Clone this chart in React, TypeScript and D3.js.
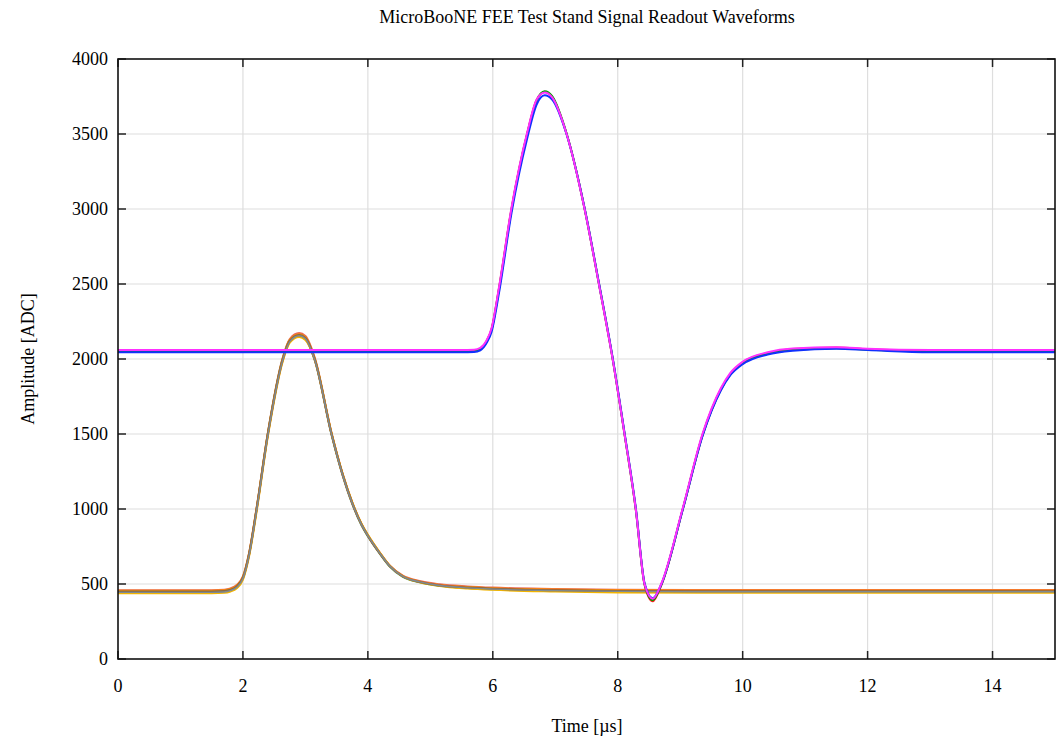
import React from 'react';
import * as d3 from 'd3';

// sample times [µs]
const timesA = [0, 1.5, 1.7, 1.8, 1.9, 2.0, 2.1, 2.22, 2.4, 2.64, 2.75, 2.9, 3.0, 3.15, 3.42, 3.6, 3.75, 3.9, 4.0, 4.19, 4.35, 4.56, 4.83, 5.15, 5.6, 6.0, 7, 8, 10, 12, 15];
const timesB = [0, 5.5, 5.7, 5.8, 5.9, 5.98, 6.1, 6.3, 6.55, 6.7, 6.83, 6.95, 7.18, 7.47, 7.7, 7.92, 8.11, 8.29, 8.43, 8.56, 8.7, 9.04, 9.36, 9.65, 9.8, 10.0, 10.4, 10.8, 11.5, 12, 13, 15];

// collection-plane channels (unipolar)
const chA1 = [444, 444, 447, 456, 478, 536, 696, 996, 1496, 1996, 2116, 2155, 2135, 1994, 1496, 1222, 1038, 894, 822, 706, 620, 551, 514, 490, 474, 466, 456, 451, 448, 448, 448];
const chA2 = [438, 438, 441, 450, 471, 529, 688, 986, 1487, 1989, 2109, 2146, 2127, 1996, 1502, 1228, 1044, 900, 828, 710, 622, 551, 512, 487, 470, 461, 450, 444, 441, 441, 441];
const chA3 = [450, 450, 453, 462, 484, 542, 702, 1002, 1502, 2002, 2122, 2160, 2140, 1998, 1498, 1225, 1040, 895, 822, 705, 619, 550, 513, 490, 476, 468, 458, 454, 452, 452, 452];
const chA4 = [455, 455, 458, 467, 489, 547, 707, 1007, 1507, 2007, 2127, 2165, 2145, 2002, 1500, 1226, 1042, 897, 824, 707, 621, 553, 516, 494, 480, 472, 463, 458, 456, 456, 456];
const chA5 = [459, 459, 462, 471, 493, 551, 711, 1011, 1511, 2013, 2133, 2173, 2153, 2008, 1505, 1229, 1044, 899, 826, 710, 624, 556, 520, 498, 484, 476, 467, 462, 460, 460, 460];
const chA6 = [447, 447, 450, 459, 482, 541, 702, 1004, 1505, 2006, 2124, 2158, 2137, 1992, 1492, 1219, 1034, 890, 818, 702, 616, 548, 511, 488, 473, 465, 455, 450, 448, 448, 448];

// induction-plane channels (bipolar)
const chB1 = [2045, 2045, 2047, 2058, 2106, 2180, 2442, 2975, 3470, 3695, 3758, 3730, 3500, 3005, 2505, 2005, 1505, 1005, 505, 405, 500, 995, 1490, 1790, 1890, 1965, 2030, 2055, 2068, 2060, 2045, 2045];
const chB2 = [2050, 2050, 2052, 2064, 2114, 2195, 2468, 2998, 3498, 3722, 3785, 3752, 3505, 3002, 2500, 2000, 1498, 996, 498, 392, 498, 998, 1495, 1795, 1895, 1972, 2035, 2060, 2072, 2062, 2050, 2050];
const chB3 = [2055, 2055, 2057, 2069, 2119, 2200, 2474, 3003, 3503, 3725, 3780, 3746, 3503, 3000, 2498, 1996, 1494, 992, 494, 385, 495, 996, 1496, 1798, 1900, 1978, 2040, 2066, 2076, 2066, 2054, 2054];
const chB4 = [2060, 2060, 2062, 2074, 2124, 2205, 2480, 3010, 3508, 3728, 3776, 3744, 3502, 2998, 2496, 1996, 1496, 995, 498, 402, 505, 1005, 1505, 1805, 1906, 1982, 2045, 2070, 2078, 2068, 2060, 2060];

const seriesA = [
  { color: '#e86a5c', values: chA5 },
  { color: '#3cb371', values: chA6 },
  { color: '#ff8c00', values: chA4 },
  { color: '#d13a2a', values: chA1 },
  { color: '#f2b400', values: chA2 },
  { color: '#8b6a3e', values: chA3 },
  { color: '#7f8a94', values: chA1 },
];
const seriesB = [
  { color: '#ff2020', values: chB3 },
  { color: '#00a000', values: chB2 },
  { color: '#1030ff', values: chB1 },
  { color: '#ff30ff', values: chB4 },
];

const xTicks = [0, 2, 4, 6, 8, 10, 12, 14];
const yTicks = [0, 500, 1000, 1500, 2000, 2500, 3000, 3500, 4000];

const W = 1060;
const H = 740;
const margin = { top: 59, right: 5, bottom: 81, left: 118 };
const font = '"Liberation Serif", "Times New Roman", serif';

export default function App() {
  const x = d3.scaleLinear().domain([0, 15]).range([margin.left, W - margin.right]);
  const y = d3.scaleLinear().domain([0, 4000]).range([H - margin.bottom, margin.top]);
  const x0 = x(0), x1 = x(15), y0 = y(0), y1 = y(4000);
  const tick = 8;

  const lineA = d3.line<number>()
    .x((_, i) => x(timesA[i]))
    .y((d) => y(d))
    .curve(d3.curveMonotoneX);
  const lineB = d3.line<number>()
    .x((_, i) => x(timesB[i]))
    .y((d) => y(d))
    .curve(d3.curveMonotoneX);

  return (
    <svg width={W} height={H} style={{ position: 'absolute', left: 0, top: 0, background: '#fff' }}
      fontFamily={font}>
      <defs>
        <clipPath id="plot">
          <rect x={x0} y={y1} width={x1 - x0} height={y0 - y1} />
        </clipPath>
      </defs>

      {/* grid */}
      {xTicks.filter((t) => t > 0).map((t) => (
        <line key={'gx' + t} x1={x(t)} x2={x(t)} y1={y1} y2={y0} stroke="#dedede" strokeWidth={1.2} />
      ))}
      {yTicks.filter((t) => t > 0 && t < 4000).map((t) => (
        <line key={'gy' + t} x1={x0} x2={x1} y1={y(t)} y2={y(t)} stroke="#dedede" strokeWidth={1.2} />
      ))}

      {/* waveforms */}
      <g clipPath="url(#plot)" fill="none" strokeWidth={2} strokeLinejoin="round">
        {seriesA.map((s, i) => (
          <path key={'a' + i} d={lineA(s.values) ?? ''} stroke={s.color} strokeWidth={i === seriesA.length - 1 ? 1.4 : 2} />
        ))}
        {seriesB.map((s, i) => (
          <path key={'b' + i} d={lineB(s.values) ?? ''} stroke={s.color} />
        ))}
      </g>

      {/* ticks, mirrored on all sides */}
      {xTicks.map((t) => (
        <g key={'tx' + t} stroke="#222" strokeWidth={1.5}>
          <line x1={x(t)} x2={x(t)} y1={y0} y2={y0 - tick} />
          <line x1={x(t)} x2={x(t)} y1={y1} y2={y1 + tick} />
        </g>
      ))}
      {yTicks.map((t) => (
        <g key={'ty' + t} stroke="#222" strokeWidth={1.5}>
          <line x1={x0} x2={x0 + tick} y1={y(t)} y2={y(t)} />
          <line x1={x1} x2={x1 - tick} y1={y(t)} y2={y(t)} />
        </g>
      ))}

      {/* frame */}
      <rect x={x0} y={y1} width={x1 - x0} height={y0 - y1} fill="none" stroke="#111" strokeWidth={1.6} />

      {/* tick labels */}
      {xTicks.map((t) => (
        <text key={'lx' + t} x={x(t)} y={y0 + 33} textAnchor="middle" fontSize={18} fill="#000">{t}</text>
      ))}
      {yTicks.map((t) => (
        <text key={'ly' + t} x={x0 - 10} y={y(t) + 6} textAnchor="end" fontSize={18} fill="#000">{t}</text>
      ))}

      {/* titles */}
      <text x={587} y={23} textAnchor="middle" fontSize={18} fill="#000">
        MicroBooNE FEE Test Stand Signal Readout Waveforms
      </text>
      <text x={587} y={732} textAnchor="middle" fontSize={18} fill="#000">Time [µs]</text>
      <text transform={`translate(34,${(y0 + y1) / 2}) rotate(-90)`} textAnchor="middle" fontSize={18} fill="#000">
        Amplitude [ADC]
      </text>
    </svg>
  );
}
